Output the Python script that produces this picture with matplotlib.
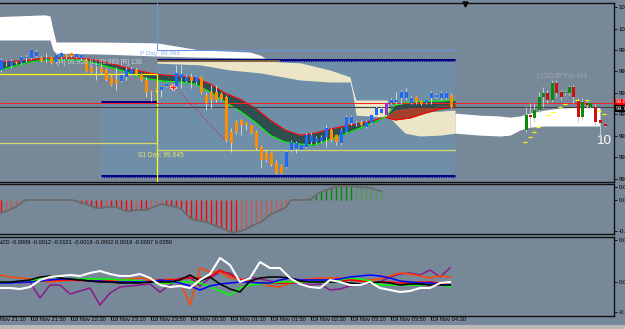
import numpy as np
import matplotlib.pyplot as plt
from matplotlib.patches import Rectangle

plt.rcParams['font.family'] = ['Liberation Sans', 'DejaVu Sans']

BG = '#778899'

# time axis: minutes after 18 Nov 21:10, M5 bars
bar_t = np.arange(10, 465, 5)
opens = [99.926, 99.950, 99.940, 99.954, 99.950, 99.968, 99.968, 99.975, 99.968, 99.964,
         99.971, 99.954, 99.971, 99.978, 99.985, 99.971, 99.968, 99.961, 99.936, 99.940,
         99.936, 99.926, 99.901, 99.891, 99.887, 99.901, 99.912, 99.926, 99.912, 99.891,
         99.852, 99.859, 99.856, 99.870, 99.873, 99.866, 99.898, 99.887, 99.901, 99.884,
         99.901, 99.838, 99.849, 99.849, 99.842, 99.831, 99.709, 99.744, 99.751, 99.740,
         99.733, 99.709, 99.656, 99.635, 99.635, 99.600, 99.590, 99.586, 99.646, 99.649,
         99.646, 99.656, 99.674, 99.674, 99.677, 99.691, 99.716, 99.698, 99.670, 99.709,
         99.740, 99.737, 99.744, 99.726, 99.740, 99.768, 99.775, 99.768, 99.810, 99.814,
         99.828, 99.828, 99.810, 99.831, 99.817, 99.810, 99.828, 99.831, 99.828, 99.828,
         99.838]
closes = [99.961, 99.954, 99.957, 99.950, 99.971, 99.971, 99.996, 99.989, 99.957, 99.968,
          99.950, 99.978, 99.985, 99.971, 99.975, 99.982, 99.978, 99.922, 99.919, 99.943,
          99.919, 99.891, 99.873, 99.880, 99.908, 99.926, 99.929, 99.912, 99.891, 99.849,
          99.849, 99.856, 99.866, 99.877, 99.863, 99.915, 99.912, 99.901, 99.887, 99.901,
          99.845, 99.810, 99.821, 99.821, 99.824, 99.681, 99.670, 99.709, 99.733, 99.733,
          99.705, 99.653, 99.611, 99.611, 99.593, 99.565, 99.565, 99.639, 99.674, 99.670,
          99.663, 99.698, 99.698, 99.688, 99.691, 99.723, 99.681, 99.674, 99.716, 99.761,
          99.761, 99.740, 99.733, 99.744, 99.768, 99.793, 99.789, 99.810, 99.821, 99.821,
          99.849, 99.849, 99.828, 99.814, 99.807, 99.821, 99.845, 99.838, 99.845, 99.845,
          99.796]
highs = [99.968, 99.961, 99.964, 99.957, 99.978, 99.978, 99.999, 99.996, 99.975, 99.985,
         99.975, 99.985, 99.996, 99.985, 99.989, 99.985, 99.985, 99.968, 99.943, 99.950,
         99.947, 99.933, 99.908, 99.936, 99.915, 99.936, 99.936, 99.933, 99.915, 99.901,
         99.856, 99.863, 99.870, 99.880, 99.877, 99.943, 99.943, 99.908, 99.915, 99.905,
         99.905, 99.849, 99.873, 99.873, 99.849, 99.838, 99.723, 99.751, 99.754, 99.744,
         99.737, 99.716, 99.663, 99.646, 99.639, 99.611, 99.597, 99.646, 99.681, 99.677,
         99.667, 99.705, 99.709, 99.695, 99.698, 99.733, 99.723, 99.702, 99.723, 99.768,
         99.768, 99.747, 99.751, 99.751, 99.775, 99.800, 99.796, 99.814, 99.828, 99.849,
         99.856, 99.863, 99.835, 99.835, 99.821, 99.824, 99.852, 99.845, 99.852, 99.849,
         99.845]
lows = [99.919, 99.940, 99.933, 99.947, 99.947, 99.954, 99.964, 99.971, 99.954, 99.954,
        99.947, 99.950, 99.961, 99.964, 99.971, 99.968, 99.961, 99.919, 99.915, 99.891,
        99.912, 99.887, 99.870, 99.856, 99.884, 99.891, 99.908, 99.908, 99.887, 99.831,
        99.817, 99.849, 99.831, 99.866, 99.859, 99.863, 99.863, 99.884, 99.863, 99.877,
        99.842, 99.786, 99.793, 99.814, 99.821, 99.674, 99.639, 99.702, 99.698, 99.716,
        99.702, 99.646, 99.583, 99.604, 99.590, 99.562, 99.562, 99.583, 99.639, 99.635,
        99.642, 99.653, 99.667, 99.667, 99.670, 99.656, 99.674, 99.663, 99.663, 99.705,
        99.733, 99.730, 99.730, 99.723, 99.737, 99.765, 99.772, 99.765, 99.807, 99.807,
        99.807, 99.821, 99.807, 99.807, 99.803, 99.807, 99.807, 99.828, 99.821, 99.824,
        99.793]
signal_bar = 77  # purple candle

# moving-average ribbon (slow = red, fast = green); crossing at t=394
ma_t = [9, 24, 39, 54, 69, 84, 99, 114, 129, 144, 159, 174, 189, 204, 219, 234,
        249, 264, 279, 294, 309, 324, 339, 354, 369, 384, 394, 404, 419, 434, 449, 464]
ma_slow = [99.954, 99.957, 99.961, 99.968, 99.968, 99.968, 99.964, 99.954, 99.940, 99.926,
           99.915, 99.908, 99.905, 99.898, 99.877, 99.845, 99.824, 99.793, 99.751, 99.716,
           99.698, 99.705, 99.719, 99.730, 99.740, 99.751, 99.761, 99.751, 99.758, 99.775,
           99.789, 99.796]
ma_fast = [99.926, 99.940, 99.954, 99.961, 99.961, 99.961, 99.954, 99.940, 99.926, 99.908,
           99.894, 99.887, 99.884, 99.877, 99.849, 99.814, 99.782, 99.744, 99.698, 99.674,
           99.667, 99.663, 99.684, 99.702, 99.723, 99.744, 99.761, 99.803, 99.814, 99.817,
           99.817, 99.821]
mid_t = [394, 404, 419, 434, 449, 464]
ma_mid = [99.761, 99.786, 99.793, 99.796, 99.800, 99.803]

# cloud areas
cloud1_t = [0, 54, 59, 62, 65, 109, 166, 209, 259, 269, 274]
cloud1_top = [100.112, 100.119, 100.115, 100.066, 100.024, 100.024, 100.021, 99.996, 99.989, 99.978, 99.968]
cloud1_bot = [100.031, 100.031, 100.031, 99.996, 99.985, 99.982, 99.975, 99.971, 99.968, 99.968, 99.968]
cloud2_t = [166, 209, 239, 269, 309, 339, 359, 362, 365, 396, 399, 406, 414, 429, 449, 464]
cloud2_top = [99.958, 99.958, 99.958, 99.958, 99.951, 99.926, 99.902, 99.856, 99.821, 99.821,
              99.775, 99.775, 99.775, 99.779, 99.782, 99.786]
cloud2_bot = [99.950, 99.944, 99.926, 99.916, 99.891, 99.884, 99.884, 99.838, 99.768, 99.761,
              99.758, 99.733, 99.705, 99.695, 99.698, 99.705]
cloud3_t = [464, 489, 509, 519, 529, 539, 554, 569, 594, 609]
cloud3_top = [99.775, 99.768, 99.765, 99.761, 99.765, 99.775, 99.786, 99.793, 99.796, 99.796]
cloud3_bot = [99.705, 99.698, 99.695, 99.698, 99.716, 99.726, 99.730, 99.730, 99.730, 99.730]

# daily range boxes and pivots
box_t = [110, 166, 464]
box_top = [99.814, 99.961, 99.961]
box_bot = 99.555
day_t = [0, 166, 464]
pivot_p = [100.25, 99.996, 99.996]
pivot_y = [99.912, 99.40, 99.40]
pivot_s1 = [99.670, 99.645, 99.645]
ask, bid = 99.810, 99.796

# H4 overlay candles
h4_t = [535, 539, 543, 548, 552, 556, 561, 565, 570, 574, 578, 582, 587, 591, 596, 599, 604, 609, 614]
h4_o = [99.716, 99.768, 99.758, 99.786, 99.831, 99.845, 99.821, 99.880, 99.849, 99.845,
        99.845, 99.866, 99.821, 99.761, 99.810, 99.796, 99.796, 99.751, 99.737]
h4_c = [99.768, 99.761, 99.786, 99.831, 99.845, 99.821, 99.880, 99.845, 99.831, 99.849,
        99.866, 99.831, 99.761, 99.814, 99.803, 99.810, 99.744, 99.740, 99.730]
h4_h = [99.796, 99.810, 99.810, 99.849, 99.866, 99.856, 99.891, 99.891, 99.856, 99.856,
        99.873, 99.873, 99.828, 99.828, 99.817, 99.814, 99.807, 99.758, 99.740]
h4_l = [99.709, 99.726, 99.744, 99.775, 99.796, 99.810, 99.814, 99.831, 99.821, 99.838,
        99.838, 99.810, 99.744, 99.751, 99.793, 99.789, 99.733, 99.674, 99.726]
sar_t = [534, 539, 543, 547, 557, 562, 569, 574, 586, 596, 608, 613]
sar_p = [99.674, 99.691, 99.709, 99.726, 99.768, 99.779, 99.796, 99.807, 99.821, 99.821, 99.782, 99.772]

# oscillator histogram
hist = [-0.043, -0.037, -0.030, -0.023, -0.010, 0, 0, 0, 0, 0,
        0, 0, 0, 0, 0, -0.003, -0.010, -0.013, -0.020, -0.027,
        -0.027, -0.023, -0.023, -0.023, -0.030, -0.037, -0.037, -0.033, -0.033, -0.033,
        -0.027, -0.020, -0.013, -0.017, -0.020, -0.023, -0.030, -0.047, -0.063, -0.067,
        -0.070, -0.073, -0.080, -0.087, -0.093, -0.100, -0.107, -0.107, -0.103, -0.097,
        -0.087, -0.080, -0.073, -0.060, -0.047, -0.040, -0.033, -0.023, 0, 0,
        0, 0, 0.003, 0.017, 0.027, 0.033, 0.040, 0.043, 0.047, 0.047,
        0.047, 0.045, 0.043, 0.042, 0.040, 0.033, 0.030]

# currency strength lines
cs_t = np.arange(9, 460, 10)
cs_white = [-0.0030, -0.0030, -0.0035, -0.0025, 0.0010, 0.0025, 0.0030, 0.0035, 0.0030, 0.0045,
            0.0055, 0.0040, 0.0030, 0.0030, 0.0040, 0.0020, -0.0015, -0.0025, -0.0020, -0.0030,
            0.0010, 0.0040, 0.0120, 0.0085, 0.0000, 0.0020, 0.0100, 0.0070, 0.0070, 0.0020,
            -0.0010, -0.0025, -0.0030, 0.0010, 0.0000, -0.0015, -0.0015, 0.0000, -0.0030, -0.0040,
            -0.0050, -0.0045, -0.0030, -0.0030, -0.0005, 0.0000]
cs_purple = [0, 0, -0.0005, 0, -0.0080, -0.0015, -0.0015, -0.0060, -0.0045, -0.0030,
             -0.0115, -0.0055, -0.0025, -0.0020, -0.0015, -0.0010, -0.0050, -0.0015, 0.0020, 0.0025,
             -0.0020, 0.0020, 0.0050, 0.0045, 0.0005, 0.0025, 0.0015, 0.0005, -0.0005, -0.0005,
             -0.0005, -0.0015, -0.0010, -0.0040, -0.0035, -0.0020, -0.0010, -0.0005, 0.0000, 0.0025,
             0.0040, 0.0045, 0.0035, 0.0060, 0.0025, 0.0070]
cs_orange = [0.0035, 0.0025, 0.0020, 0.0015, 0.0005, 0.0000, 0.0005, 0.0010, 0.0005, 0.0010,
             0.0005, 0.0005, 0.0010, 0.0015, 0.0020, 0.0015, 0.0010, 0.0015, 0.0005, -0.0115,
             0.0070, 0.0050, 0.0050, 0.0020, 0.0015, 0.0005, -0.0005, -0.0020, -0.0025, -0.0005,
             0.0010, 0.0015, 0.0020, 0.0020, 0.0020, 0.0015, 0.0005, 0.0010, 0.0015, 0.0030,
             0.0045, 0.0040, 0.0030, 0.0020, 0.0030, 0.0025]
cs_black = [0, 0, 0.0005, 0.0010, 0.0025, 0.0030, 0.0020, 0.0015, 0.0010, 0.0005,
            0, 0, -0.0005, -0.0005, -0.0005, 0, 0, 0, 0.0010, 0.0035,
            0.0005, 0.0025, -0.0010, -0.0035, -0.0050, 0.0005, 0.0020, 0.0025, 0.0025, 0.0020,
            0.0005, 0, 0, 0, 0, -0.0005, -0.0010, -0.0005, 0, -0.0005,
            -0.0015, -0.0010, -0.0010, -0.0015, -0.0015, -0.0015]
cs_blue = [-0.0005, -0.0005, 0, 0, 0.0005, 0.0010, 0.0015, 0.0015, 0.0010, 0.0005,
           0.0005, 0, 0, 0, 0, 0, 0.0010, 0.0005, -0.0005, -0.0020,
           -0.0040, -0.0020, -0.0010, -0.0005, 0, 0, -0.0005, -0.0005, 0.0010, 0.0020,
           0.0010, 0.0010, 0.0010, 0.0010, 0.0015, 0.0025, 0.0030, 0.0035, 0.0030, 0.0020,
           0.0005, 0, -0.0005, -0.0005, -0.0010, -0.0015]
cs_green = [0, 0, 0, 0.0005, 0.0015, 0.0025, 0.0020, 0.0015, 0.0015, 0.0015,
            0.0015, 0.0015, 0.0010, 0.0010, 0.0005, 0, -0.0005, -0.0005, 0, 0,
            -0.0005, -0.0025, -0.0045, -0.0065, -0.0030, -0.0015, -0.0010, -0.0005, 0, 0,
            0, 0, 0, 0, 0.0010, 0.0020, 0.0015, 0.0005, -0.0015, -0.0015,
            -0.0015, -0.0015, -0.0015, -0.0010, -0.0010, -0.0025]
cs_red = [0, 0, 0, 0.0005, 0.0010, 0.0010, 0.0010, 0.0010, 0.0010, 0.0005,
          0.0005, 0.0005, 0, 0, 0, 0.0005, 0.0005, 0.0010, 0.0015, 0.0020,
          0.0020, 0.0025, 0.0060, 0.0035, 0.0015, 0, -0.0005, -0.0005, -0.0005, -0.0005,
          0, 0, 0, 0, 0.0005, 0.0010, 0.0005, 0, 0, 0,
          -0.0005, -0.0005, 0, 0, -0.0005, -0.0015]
cs_header = 'NZD -0.0009 -0.0012 -0.0021 -0.0018 -0.0002 0.0019 -0.0007 0.0050'

time_t = [0, 40, 80, 120, 160, 200, 240, 280, 320, 360, 400, 440]
time_labels = ['18 Nov 21:10', '18 Nov 21:50', '18 Nov 22:30', '18 Nov 23:10', '18 Nov 23:50',
               '19 Nov 00:30', '19 Nov 01:10', '19 Nov 01:50', '19 Nov 02:30', '19 Nov 03:10',
               '19 Nov 03:50', '19 Nov 04:30']
price_ticks = [100.146, 100.071, 99.996, 99.921, 99.846, 99.771, 99.696, 99.621, 99.546]

W, H = 625, 329
SMALL = 4.1
fig = plt.figure(figsize=(6.25, 3.29), dpi=100, facecolor=BG)


def panel(top, bottom):
    ax = fig.add_axes([0, 1 - bottom / H, 614 / W, (bottom - top) / H])
    ax.set_facecolor(BG)
    ax.set_xlim(9, 623)
    ax.spines['left'].set_visible(False)
    for s in ('top', 'right', 'bottom'):
        ax.spines[s].set_color('#111111')
        ax.spines[s].set_linewidth(1)
    ax.yaxis.tick_right()
    ax.tick_params(axis='y', length=2.5, width=0.6, pad=1, labelsize=SMALL + 0.2, colors='black')
    ax.tick_params(axis='x', length=0, labelbottom=False)
    return ax


ax1 = panel(3, 182)
ax2 = panel(184, 234)
ax3 = panel(237, 316)

# ---- main price panel
ax1.set_ylim(99.534, 100.1605)
ax1.set_yticks(price_ticks)
ax1.set_yticklabels([f'{v:.3f}' for v in price_ticks])

ax1.fill_between(box_t, box_bot, box_top, step='post', color='#6f8fa9', lw=0, zorder=1)
ax1.fill_between(cloud1_t, cloud1_bot, cloud1_top, color='white', lw=0, zorder=2)
ax1.fill_between(cloud2_t, cloud2_bot, cloud2_top, color='#ece6c6', lw=0, zorder=2)
ax1.fill_between(cloud3_t, cloud3_bot, cloud3_top, color='white', lw=0, zorder=2)

ax1.hlines(box_top[:2], box_t[:2], box_t[1:], color='#000080', lw=2.2, zorder=4)
ax1.hlines([box_bot], box_t[0], box_t[-1], color='#000080', lw=2.2, zorder=4)
ax1.hlines([b - 0.005 for b in box_top[:2]], box_t[:2], box_t[1:], color='white', lw=0.5,
           linestyles=(0, (1, 1.5)), zorder=4)
ax1.hlines([box_bot - 0.005], box_t[0], box_t[-1], color='white', lw=0.5,
           linestyles=(0, (1, 1.5)), zorder=4)
ax1.hlines([box_top[1] - 0.002], box_t[1], 289, color='#9a7a2a', lw=1.1, zorder=4)

ax1.plot(day_t, pivot_p, drawstyle='steps-post', color='#6495ed', lw=0.7, zorder=4)
ax1.plot(day_t, pivot_y, drawstyle='steps-post', color='#ffff00', lw=0.9, zorder=4)
ax1.plot(day_t, pivot_s1, drawstyle='steps-post', color='#d6d66a', lw=0.9, zorder=4)

# ribbon: dark before the cross, after it dark over brown
slow_a, fast_a = np.array(ma_slow), np.array(ma_fast)
pre = slow_a >= fast_a
ax1.fill_between(ma_t, fast_a, slow_a, where=pre, interpolate=True, color='#2f4f4f', lw=0, zorder=3)
n_mid = len(mid_t)
ax1.fill_between(mid_t, ma_mid, fast_a[-n_mid:], color='#2f4f4f', lw=0, zorder=3)
ax1.fill_between(mid_t, slow_a[-n_mid:], ma_mid, color='#a5402b', lw=0, zorder=3)
ax1.plot(ma_t, ma_slow, color='#ff0000', lw=0.8, zorder=3.5)
ax1.plot(ma_t, ma_fast, color='#00ff00', lw=0.8, zorder=3.5)

ax1.axhline(ask, color='#ff2020', lw=0.7, zorder=4)
ax1.axhline(bid, color='#404040', lw=0.8, zorder=4)

# candles
o, c = np.array(opens), np.array(closes)
cols = np.where(c >= o, '#1f6af5', '#ff8c00').astype(object)
cols[signal_bar] = '#9b30c8'
ax1.vlines(bar_t, lows, highs, color='#d4d4d4', lw=0.7, zorder=5)
ax1.bar(bar_t, np.maximum(np.abs(c - o), 0.002), bottom=np.minimum(o, c), width=3,
        color=list(cols), lw=0, zorder=6)

# H4 overlay
ho, hc = np.array(h4_o), np.array(h4_c)
ax1.vlines(h4_t, h4_l, h4_h, color='#c8c8c8', lw=0.7, zorder=5)
ax1.bar(h4_t, np.maximum(np.abs(hc - ho), 0.002), bottom=np.minimum(ho, hc), width=3,
        color=['#0a8a0a' if a >= b else '#cc1010' for a, b in zip(hc, ho)], lw=0, zorder=6)
ax1.plot(sar_t, sar_p, ls='none', marker='_', ms=2.5, mew=0.9, color='#ffff00', zorder=6)

# signal arrow
ax1.plot([184, 233], [99.866, 99.684], color='#e02020', lw=0.8, ls=(0, (1, 2)), zorder=5)
ax1.plot([182], [99.866], marker='P', ms=4, color='#ff2020', mec='white', mew=0.4, zorder=7)

ax1.text(149, 99.982, 'P Day: 99.996', color='#86b4f2', fontsize=4.6, va='center', zorder=8)
ax1.text(147, 99.628, 'S1 Day: 99.645', color='#e4e46a', fontsize=4.8, va='center', zorder=8)
ax1.text(66, 99.954, '[H] 99.955 [L] 99.883 [R] 138', color='#c6ccd2', fontsize=4.8,
         va='center', zorder=8)
ax1.text(571, 99.902, 'USDJPYm H4', color='#a2a8ae', fontsize=5.8, ha='center', va='center')
ax1.text(613, 99.678, '10', color='white', fontsize=9.7, ha='center', va='center')

ytr = ax1.get_yaxis_transform()
ax1.text(1.003, ask + 0.005, f'{ask:.3f}', transform=ytr, fontsize=SMALL, color='white',
         va='center', ha='left', bbox=dict(fc='#ff0000', ec='none', pad=0.4), clip_on=False)
ax1.text(1.003, bid - 0.004, f'{bid:.3f}', transform=ytr, fontsize=SMALL, color='white',
         va='center', ha='left', bbox=dict(fc='black', ec='none', pad=0.6), clip_on=False)
ax1.plot([474], [0.993], marker='v', ms=3.5, color='black', transform=ax1.get_xaxis_transform(),
         clip_on=False)

# ---- histogram panel
ax2.set_ylim(-0.1133, 0.0533)
ax2.set_yticks([0.0433, 0.0, -0.1033])
ax2.set_yticklabels(['0.0433', '0.0000', '-0.1033'])
hv = np.array(hist)
ht = bar_t[:len(hv)]
grow = np.abs(hv) >= np.abs(np.concatenate([[0], hv[:-1]]))
hcol = [('#ff0000' if g else '#cc5555') if v < 0 else ('#008a00' if g else '#4f9a4f')
        for v, g in zip(hv, grow)]
ax2.vlines(ht, 0, hv, colors=hcol, lw=1.0, zorder=2)
ax2.plot(ht, hv, color='#6a6a6a', lw=1.3, zorder=3)

# ---- currency strength panel
ax3.set_ylim(-0.0170, 0.0225)
ax3.set_yticks([0.0210, 0.0, -0.0150])
ax3.set_yticklabels(['0.0210', '0.0000', '-0.0150'])
for vals, col, lw in [(cs_purple, '#8b1a8b', 1.1), (cs_orange, '#ff4500', 1.1),
                      (cs_red, '#ff0000', 1.1), (cs_green, '#00ff00', 1.1),
                      (cs_blue, '#0000ff', 1.1), (cs_black, '#000000', 1.1),
                      (cs_white, '#ffffff', 1.5)]:
    ax3.plot(cs_t, vals, color=col, lw=lw, zorder=3)
ax3.text(7, 0.0195, cs_header, fontsize=SMALL, color='black', va='center')
ax3.set_xticks([t for t in time_t if t >= 9])
ax3.tick_params(axis='x', length=3, width=0.6, direction='out', colors='black')
xtr = ax3.get_xaxis_transform()
for t, lab in zip(time_t, time_labels):
    ax3.text(t + 1.5, -0.05, lab, transform=xtr, fontsize=SMALL, va='center', ha='left',
             clip_on=False)

fig.patches.append(Rectangle((0, 0), 1, 4 / H, transform=fig.transFigure,
                             color='#b9b9b9', lw=0))

fig.savefig('out.png', dpi=100, facecolor=BG)
